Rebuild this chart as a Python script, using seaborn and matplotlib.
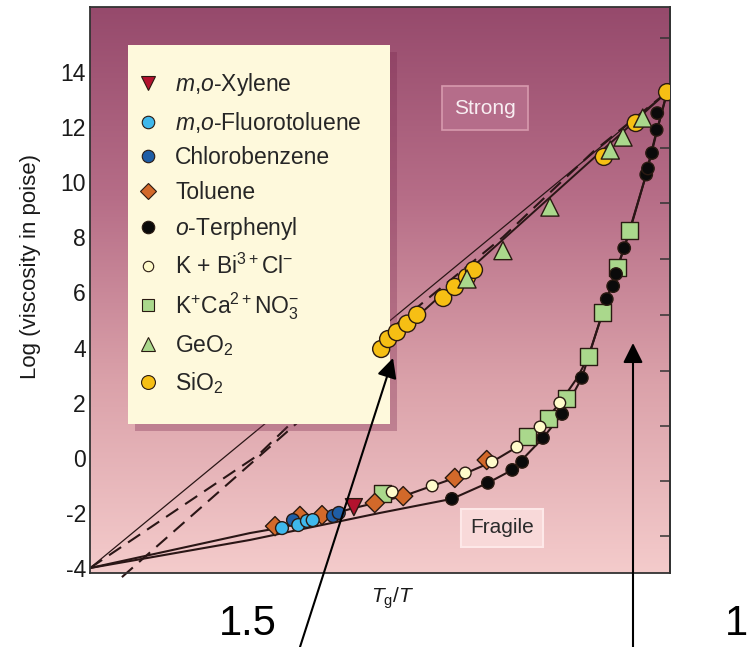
import numpy as np
import pandas as pd
import matplotlib
matplotlib.use('Agg')
import matplotlib.pyplot as plt
from matplotlib.colors import LinearSegmentedColormap
from matplotlib.lines import Line2D
from matplotlib.patches import Rectangle
import seaborn as sns

# Tg/T (x) and log viscosity (y)
sio2_x = [0.502, 0.514, 0.529, 0.547, 0.564, 0.609, 0.629, 0.650, 0.662, 0.886, 0.941, 0.995]
sio2_y = [3.95, 4.31, 4.56, 4.87, 5.19, 5.80, 6.20, 6.56, 6.82, 10.92, 12.15, 13.27]
geo2_x = [0.650, 0.712, 0.793, 0.897, 0.919, 0.953]
geo2_y = [6.49, 7.52, 9.10, 11.17, 11.64, 12.33]
kca_x = [0.505, 0.755, 0.790, 0.822, 0.859, 0.884, 0.909, 0.931]
kca_y = [-1.28, 0.76, 1.44, 2.17, 3.66, 5.26, 6.89, 8.26]
terph_x = [0.624, 0.686, 0.728, 0.745, 0.781, 0.814, 0.848, 0.891, 0.902, 0.907, 0.921,
           0.959, 0.962, 0.969, 0.977, 0.978]
terph_y = [-1.49, -0.91, -0.44, -0.15, 0.72, 1.59, 2.90, 5.76, 6.23, 6.67, 7.61,
           10.28, 10.50, 11.06, 11.90, 12.51]
toluene_x = [0.319, 0.362, 0.400, 0.491, 0.540, 0.629, 0.684]
toluene_y = [-2.48, -2.11, -2.08, -1.64, -1.39, -0.73, -0.08]
kbi_x = [0.521, 0.590, 0.647, 0.693, 0.736, 0.776, 0.810]
kbi_y = [-1.24, -1.02, -0.55, -0.15, 0.39, 1.12, 1.99]
chloro_x = [0.350, 0.419, 0.429]
chloro_y = [-2.26, -2.11, -2.00]
fluoro_x = [0.331, 0.359, 0.374, 0.384]
fluoro_y = [-2.55, -2.44, -2.29, -2.26]
xylene_x = [0.455]
xylene_y = [-1.79]

# guide lines
strong_x = [0.0, 0.995]
strong_y = [-4.0, 13.27]
fit_x = [0.502, 0.995]
fit_y = [3.95, 13.27]
dash1_x = [0.0, 0.29, 0.495, 0.712, 0.867, 0.995]
dash1_y = [-4.0, 0.10, 4.27, 8.01, 11.10, 13.27]
dash2_x = [0.055, 0.502]
dash2_y = [-4.33, 3.95]
upper_x = [0.0, 0.276, 0.336, 0.45, 0.54, 0.629, 0.693, 0.736, 0.776, 0.81, 0.84, 0.859,
           0.884, 0.909, 0.931, 0.955, 0.975, 0.995]
upper_y = [-4.0, -2.73, -2.51, -1.85, -1.39, -0.73, -0.15, 0.39, 1.12, 1.99, 2.9, 3.66,
           5.26, 6.89, 8.26, 10.0, 11.7, 13.27]
lower_x = [0.0, 0.276, 0.5, 0.624, 0.686, 0.728, 0.781, 0.814, 0.848, 0.891, 0.921,
           0.959, 0.978, 0.995]
lower_y = [-4.0, -2.98, -2.0, -1.49, -0.91, -0.44, 0.72, 1.59, 2.90, 5.76, 7.61,
           10.28, 11.9, 13.27]

y_ticks = [-4, -2, 0, 2, 4, 6, 8, 10, 12, 14]
right_ticks = [-2.85, -0.85, 1.15, 3.15, 5.2, 7.2, 9.25, 11.25, 13.25, 15.25]
x_ticks = [0.1, 0.2, 0.3, 0.4, 0.5, 0.6, 0.7, 0.8, 0.9]

materials = ['SiO2', 'GeO2', 'KCa', 'terphenyl', 'toluene', 'KBi', 'chloro', 'fluoro', 'xylene']
xs = [sio2_x, geo2_x, kca_x, terph_x, toluene_x, kbi_x, chloro_x, fluoro_x, xylene_x]
ys = [sio2_y, geo2_y, kca_y, terph_y, toluene_y, kbi_y, chloro_y, fluoro_y, xylene_y]
df = pd.concat([pd.DataFrame({'x': a, 'y': b, 'material': m}) for m, a, b in zip(materials, xs, ys)],
               ignore_index=True)

colors = {'SiO2': '#f6bf14', 'GeO2': '#aad88c', 'KCa': '#aad88c', 'terphenyl': '#0a0a0a',
          'toluene': '#d2692a', 'KBi': '#fffbcb', 'chloro': '#1f5ea6', 'fluoro': '#3fb8ec',
          'xylene': '#b3122e'}
markers = {'SiO2': 'o', 'GeO2': '^', 'KCa': 's', 'terphenyl': 'o', 'toluene': 'D',
           'KBi': 'o', 'chloro': 'o', 'fluoro': 'o', 'xylene': 'v'}
sizes = {'SiO2': 150, 'GeO2': 170, 'KCa': 150, 'terphenyl': 80, 'toluene': 95,
         'KBi': 70, 'chloro': 85, 'fluoro': 85, 'xylene': 150}

sns.set_theme(style='white')
plt.rcParams['font.family'] = ['Liberation Sans', 'DejaVu Sans']
plt.rcParams['mathtext.fontset'] = 'custom'
plt.rcParams['mathtext.rm'] = 'Liberation Sans'
plt.rcParams['mathtext.it'] = 'Liberation Sans:italic'

fig = plt.figure(figsize=(7.49, 6.47), dpi=100)
ax = fig.add_axes([90 / 749, 1 - 573 / 647, 580 / 749, 566 / 647])
ylo, yhi = -4.18, 16.36

# background gradient
cmap = LinearSegmentedColormap.from_list('bg', ['#f4cbcb', '#dba2aa', '#b66d87', '#964a6c'])
grad = np.linspace(0, 1, 256).reshape(-1, 1)
ax.imshow(grad, extent=[0, 1, ylo, yhi], origin='lower', aspect='auto', cmap=cmap, zorder=0)

line_col = '#2a1616'
ax.plot(strong_x, strong_y, color=line_col, lw=0.9, zorder=2)
ax.plot(fit_x, fit_y, color=line_col, lw=1.4, zorder=2)
ax.plot(dash1_x, dash1_y, color=line_col, lw=1.5, dashes=(7, 4), zorder=2)
ax.plot(dash2_x, dash2_y, color=line_col, lw=1.5, dashes=(7, 4), zorder=2, clip_on=False)
sns.lineplot(x=upper_x, y=upper_y, sort=False, color=line_col, lw=1.5, ax=ax, zorder=2)
sns.lineplot(x=lower_x, y=lower_y, sort=False, color=line_col, lw=1.5, ax=ax, zorder=2)

sns.scatterplot(data=df, x='x', y='y', hue='material', style='material', size='material',
                palette=colors, markers=markers, sizes=sizes, edgecolor='#2a1a12',
                linewidth=1.0, legend=False, zorder=3, ax=ax)

ax.set_xlim(0, 1)
ax.set_ylim(ylo, yhi)
ax.set_xticks(x_ticks)
ax.set_xticklabels([])
ax.set_yticks(y_ticks)
ax.set_yticklabels([str(t) for t in y_ticks])
ax.tick_params(axis='both', direction='in', length=7, width=1.1, color='#333333',
               labelsize=16.5, labelcolor='#1a1a1a', right=False, top=False, pad=3)
sec = ax.secondary_yaxis('right')
sec.set_yticks(right_ticks)
sec.set_yticklabels([])
sec.tick_params(direction='in', length=7, width=1.1, color='#333333')
for sp in list(ax.spines.values()) + [sec.spines['right']]:
    sp.set_color('#333333')
    sp.set_linewidth(1.3)

ax.set_xlabel('')
ax.set_ylabel('Log (viscosity in poise)', fontsize=16, color='#1a1a1a')
ax.yaxis.set_label_coords(-0.0845, 0.5415)
fig.text(393 / 749, 1 - 598 / 647, '$T_{\\mathrm{g}}/T$', fontsize=15, ha='center', va='center',
         color='#1a1a1a')

# legend panel with its drop shadow
ax.add_patch(Rectangle((0.0655 + 0.012, 0.263 - 0.012), 0.4515, 0.67, transform=ax.transAxes,
                       fc='#7a2a50', ec='none', alpha=0.33, zorder=2.4))
ax.add_patch(Rectangle((0.0655, 0.263), 0.4515, 0.67, transform=ax.transAxes,
                       fc='#fef9dc', ec='none', zorder=2.5))

labels = ['$m$,$o$-Xylene', '$m$,$o$-Fluorotoluene', 'Chlorobenzene', 'Toluene',
          '$o$-Terphenyl', 'K + Bi$^{3+}$Cl$^{-}$', 'K$^{+}$Ca$^{2+}$NO$_3^{-}$',
          'GeO$_2$', 'SiO$_2$']
order = ['xylene', 'fluoro', 'chloro', 'toluene', 'terphenyl', 'KBi', 'KCa', 'GeO2', 'SiO2']
leg_ms = {'xylene': 10, 'fluoro': 9, 'chloro': 9, 'toluene': 8, 'terphenyl': 9,
          'KBi': 7.5, 'KCa': 9, 'GeO2': 10, 'SiO2': 10}
handles = [Line2D([], [], ls='none', marker=markers[k], ms=leg_ms[k], mfc=colors[k],
                  mec='#2a1a12', mew=0.8) for k in order]
leg = ax.legend(handles, labels, loc='upper left', bbox_to_anchor=(0.0802, 0.8865),
                frameon=False, fontsize=16.5, labelspacing=0.50, handlelength=1.0,
                handletextpad=0.68, borderpad=0, borderaxespad=0)
leg.set_zorder(2.6)

# labels in boxes
ax.text(0.681, 12.69, 'Strong', fontsize=15, color='#f8eef2', ha='center', va='center',
        zorder=4, bbox=dict(boxstyle='square,pad=0.6', fc='#b56d8a', ec='#d79aae', lw=1.2))
ax.text(0.710, -2.54, 'Fragile', fontsize=15, color='#2a2a2a', ha='center', va='center',
        zorder=4, bbox=dict(boxstyle='square,pad=0.45', fc='#f8d9d9', ec='#fde8e8', lw=1.5))

# overlaid annotations
arrow = dict(arrowstyle='-|>,head_length=0.6,head_width=0.3', color='black', lw=1.5,
             shrinkA=0, shrinkB=0, mutation_scale=20)
ax.annotate('', xy=(393, 647 - 358), xycoords='figure pixels', xytext=(300, 0),
            textcoords='figure pixels', arrowprops=arrow, annotation_clip=False, zorder=6)
ax.annotate('', xy=(633, 647 - 343), xycoords='figure pixels', xytext=(633, 0),
            textcoords='figure pixels', arrowprops=arrow, annotation_clip=False, zorder=6)
fig.text(248 / 749, 1 - 624 / 647, '1.5', fontsize=30, ha='center', va='center', color='black')
fig.text(748 / 749, 1 - 624 / 647, '1', fontsize=30, ha='right', va='center', color='black')

fig.savefig('out.png', dpi=100)
